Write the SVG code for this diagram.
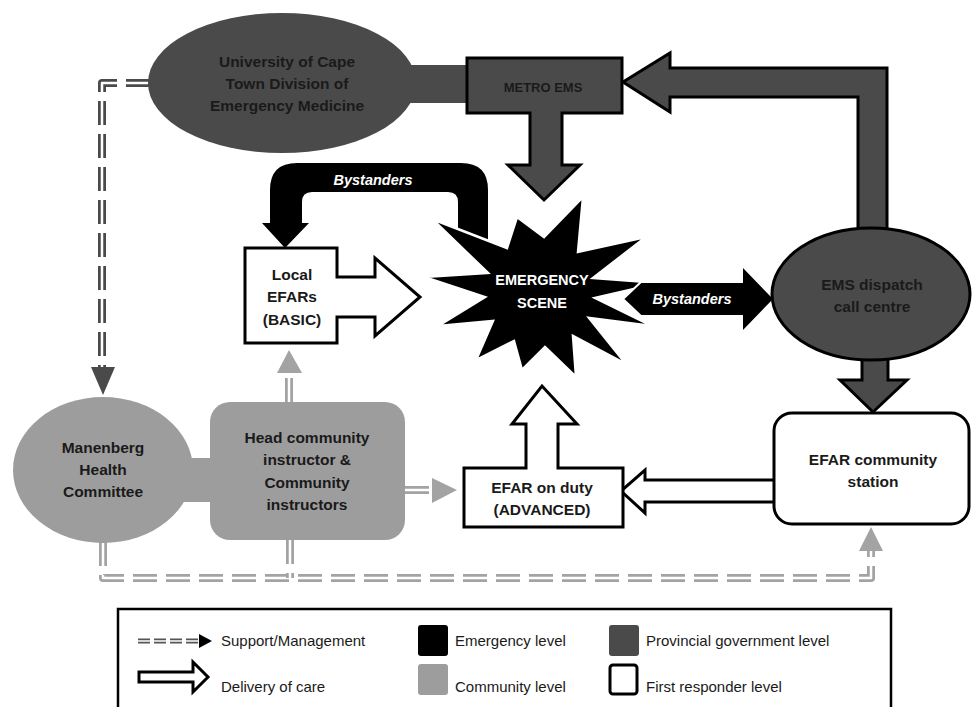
<svg xmlns="http://www.w3.org/2000/svg" width="976" height="707" viewBox="0 0 976 707">
<style>
text{font-family:"Liberation Sans",Arial,sans-serif;}
.nt{font-size:15.5px;font-weight:bold;fill:#1a1a1a;text-anchor:middle;}
.wt{font-size:14.5px;font-weight:bold;fill:#ffffff;text-anchor:middle;}
.bt{font-size:14.5px;font-weight:bold;font-style:italic;fill:#ffffff;text-anchor:middle;}
.lt{font-size:15px;fill:#1a1a1a;}
.prov{fill:#4a4a4a;}
.comm{fill:#9d9d9d;}
.ol{stroke:#000;stroke-width:3;stroke-linejoin:miter;}
.dk{fill:none;stroke:#4a4a4a;stroke-width:8;stroke-dasharray:24 9;stroke-linejoin:round;}
.gy{fill:none;stroke:#a3a3a3;stroke-width:8;stroke-dasharray:24 9;stroke-linejoin:round;}
.wc{fill:none;stroke:#fff;stroke-width:2.5;stroke-dasharray:24 9;stroke-linejoin:round;}
</style>
<rect width="976" height="707" fill="#fff"/>

<g id="connectors">
  <path class="dk" d="M150,83 H102 V368"/>
  <path class="wc" d="M150,83 H102 V368"/>
  <polygon points="91,367 115,367 103,395" fill="#4a4a4a"/>

  <path class="gy" d="M289,402 V373"/>
  <path class="wc" d="M289,402 V373"/>
  <polygon points="277,373 302,373 289,350" fill="#a3a3a3"/>

  <path class="gy" d="M405,490 H432"/>
  <path class="wc" d="M405,490 H432"/>
  <polygon points="432,478 432,503 457,490" fill="#a3a3a3"/>

  <path class="gy" d="M103,542 V578 H871 V551"/>
  <path class="wc" d="M103,542 V578 H871 V551"/>
  <path class="gy" d="M290,540 V578"/>
  <path class="wc" d="M290,540 V578"/>
  <polygon points="859,551 883,551 871,527" fill="#a3a3a3"/>

  <path class="prov ol" d="M623,82 L670,53 V68 H887 V240 H858 V97 H670 V112 Z"/>
  <path class="prov ol" d="M862,350 V380 H840 L873,412 L907,380 H888 V350 Z"/>
  <path fill="#000" d="M488,245 V190 Q488,163 461,163 H297 Q270,163 270,190 V223 H262 L285,248 L309,223 H302 V202 Q302,192 312,192 H448 Q458,192 458,202 V245 Z"/>
  <path fill="#fff" class="ol" d="M775,480 H645 V470 L621,491 L645,513 V502 H775 Z"/>
</g>

<g id="uct">
  <rect x="400" y="65" width="70" height="38" class="prov"/>
  <ellipse cx="282" cy="83" rx="134" ry="70" class="prov"/>
  <text class="nt" x="287" y="67">University of Cape</text>
  <text class="nt" x="287" y="89">Town Division of</text>
  <text class="nt" x="287" y="111">Emergency Medicine</text>
</g>

<g id="metro-ems">
  <path class="prov ol" d="M467,58 H622 V113 H562 V165 H580 L544,200 L508,165 H530 V113 H467 Z"/>
  <text class="nt" x="543" y="92" style="font-size:13px">METRO EMS</text>
</g>

<g id="emergency-scene">
  <polygon fill="#000" stroke="#fff" stroke-width="2.5" stroke-linejoin="miter" points="517,217 544,237 583,197 578,252 646,237 593,278 660,283 595,298 652,326 589,318 626,364 573,336 576,377 545,347 522,370 514,341 476,360 493,321 438,326 485,297 424,277 488,273 432,219 507,248"/>
  <text class="wt" x="542" y="285">EMERGENCY</text>
  <text class="wt" x="542" y="308">SCENE</text>
</g>

<g id="bystanders-top-label">
  <text class="bt" x="373" y="185">Bystanders</text>
</g>

<g id="bystanders-right">
  <polygon fill="#000" points="623,299 640,283 743,283 743,268 773,299 743,330 743,315 640,315"/>
  <polyline fill="none" stroke="#fff" stroke-width="2" points="642,281 623,299 642,317"/>
  <text class="bt" x="692" y="304">Bystanders</text>
</g>

<g id="ems-dispatch">
  <ellipse cx="871" cy="294" rx="99" ry="66" class="prov" stroke="#000" stroke-width="3"/>
  <text class="nt" x="872" y="290">EMS dispatch</text>
  <text class="nt" x="872" y="312">call centre</text>
</g>

<g id="local-efars">
  <path fill="#fff" class="ol" d="M245,248 H337 V277 H375 V258 L420,297 L375,336 V317 H337 V343 H245 Z"/>
  <text class="nt" x="292" y="280">Local</text>
  <text class="nt" x="292" y="302">EFARs</text>
  <text class="nt" x="292" y="325">(BASIC)</text>
</g>

<g id="efar-on-duty">
  <path fill="#fff" class="ol" d="M464,468 H526 V424 H512 L542,386 L577,424 H558 V468 H623 V527 H464 Z"/>
  <text class="nt" x="542" y="493">EFAR on duty</text>
  <text class="nt" x="542" y="515">(ADVANCED)</text>
</g>

<g id="efar-community-station">
  <rect x="774" y="413" width="195" height="111" rx="18" fill="#fff" class="ol"/>
  <text class="nt" x="873" y="465">EFAR community</text>
  <text class="nt" x="873" y="487">station</text>
</g>

<g id="manenberg">
  <rect x="180" y="458" width="35" height="44" class="comm"/>
  <ellipse cx="103" cy="470" rx="90" ry="73" class="comm"/>
  <text class="nt" x="103" y="453">Manenberg</text>
  <text class="nt" x="103" y="475">Health</text>
  <text class="nt" x="103" y="497">Committee</text>
</g>

<g id="head-instructors">
  <rect x="210" y="402" width="195" height="138" rx="20" class="comm"/>
  <text class="nt" x="307" y="443">Head community</text>
  <text class="nt" x="307" y="465">instructor &amp;</text>
  <text class="nt" x="307" y="488">Community</text>
  <text class="nt" x="307" y="510">instructors</text>
</g>

<g id="legend">
  <rect x="118" y="609" width="773" height="110" fill="none" stroke="#000" stroke-width="2.5"/>
  <path d="M138,641 H200" fill="none" stroke="#555" stroke-width="5" stroke-dasharray="12 4"/>
  <path d="M138,641 H200" fill="none" stroke="#fff" stroke-width="1.5" stroke-dasharray="12 4"/>
  <polygon points="199,634 199,648 212,641" fill="#000"/>
  <text class="lt" x="221" y="646">Support/Management</text>
  <rect x="418" y="625" width="30" height="31" rx="3" fill="#000"/>
  <text class="lt" x="455" y="646">Emergency level</text>
  <rect x="609" y="625" width="30" height="31" rx="3" class="prov"/>
  <text class="lt" x="646" y="646">Provincial government level</text>
  <path fill="#fff" stroke="#000" stroke-width="3" d="M139,672 H193 V662 L208,677 L193,692 V682 H139 Z"/>
  <text class="lt" x="221" y="692">Delivery of care</text>
  <rect x="418" y="664" width="30" height="31" rx="3" class="comm"/>
  <text class="lt" x="455" y="692">Community level</text>
  <rect x="610" y="665" width="27" height="29" rx="3" fill="#fff" stroke="#000" stroke-width="3"/>
  <text class="lt" x="646" y="692">First responder level</text>
</g>
</svg>
